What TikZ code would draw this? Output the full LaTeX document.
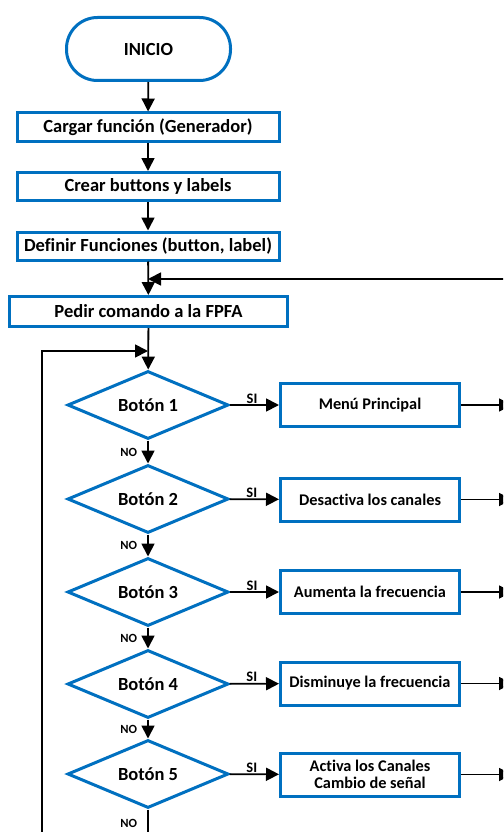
\documentclass[tikz,border=0pt]{standalone}
\usepackage{fontspec}
\setmainfont[Ligatures=NoCommon]{Carlito}
\usetikzlibrary{shapes.geometric,arrows.meta}
\definecolor{flowblue}{RGB}{0,112,192}
\begin{document}
\begin{tikzpicture}[x=1pt,y=-1pt,
  mainfont/.style={font=\fontsize{18.5}{21}\selectfont\bfseries},
  sidefont/.style={font=\fontsize{16.3}{18}\selectfont\bfseries},
  stepbox/.style={draw=flowblue,line width=3pt,fill=white,inner sep=0pt,
    minimum width=262pt,minimum height=28pt,mainfont},
  terminal/.style={draw=flowblue,line width=3pt,fill=white,inner sep=0pt,
    rounded corners=31pt,minimum width=164pt,minimum height=63pt,mainfont},
  decision/.style={diamond,aspect=2.37,draw=flowblue,line width=3pt,fill=white,
    inner sep=0pt,minimum width=161pt,minimum height=68pt,mainfont},
  actionbox/.style={draw=flowblue,line width=3pt,fill=white,inner sep=0pt,
    minimum width=179pt,minimum height=43pt,sidefont,align=center},
  flow/.style={draw=black,line width=1.8pt},
  arr/.style={flow,-{Triangle[length=13pt,width=13pt]}},
  yes/.style={above,inner sep=1pt,font=\fontsize{14.5}{16}\selectfont\bfseries},
  no/.style={left=10pt,inner sep=0pt,font=\fontsize{12.5}{14}\selectfont\bfseries}]

\useasboundingbox (0,0) rectangle (503,832);
\clip (0,0) rectangle (503,832);

% main sequence
\node[terminal] (start) at (148.5,49) {INICIO};
\node[stepbox] (load) at (148,127) {Cargar función (Generador)};
\node[stepbox] (create) at (148,186.5) {Crear buttons y labels};
\node[stepbox] (define) at (148,246) {Definir Funciones (button, label)};
\node[stepbox,minimum width=278pt,minimum height=30pt] (ask) at (148.5,311.5) {Pedir comando a la FPFA};

% decisions and actions
\node[decision] (d1) at (148,405) {Botón 1};
\node[decision] (d2) at (148,499) {Botón 2};
\node[decision] (d3) at (148,592) {Botón 3};
\node[decision] (d4) at (148,684) {Botón 4};
\node[decision] (d5) at (148,774) {Botón 5};

\node[actionbox] (a1) at (370,405) {Menú Principal};
\node[actionbox] (a2) at (370,499.5) {Desactiva los canales};
\node[actionbox] (a3) at (370,592) {Aumenta la frecuencia};
\node[actionbox] (a4) at (370,683.5) {Disminuye la frecuencia};
\node[actionbox] (a5) at (370,774.5) {Activa los Canales\\[-1pt]Cambio de señal};

% free ends of the return lines
\coordinate (retR) at (510,279);
\coordinate (retM) at (148,279);
\coordinate (loopB) at (42,840);
\coordinate (loopT) at (42,351);
\coordinate (loopM) at (148,351);
\coordinate (endB) at (148,840);
\foreach \i/\y in {1/405,2/499.5,3/592,4/683.5,5/774.5}
  \coordinate (out\i) at (512,\y);

% connectors
\draw[arr] (start) -- (load);
\draw[arr] (load) -- (create);
\draw[arr] (create) -- (define);
\draw[arr] (define) -- (ask);
\draw[arr] (retR) -- (retM);
\draw[arr] (ask) -- (d1);
\draw[arr] (loopB) -- (loopT) -- (loopM);

\draw[arr] (d1) -- node[no] {NO} (d2);
\draw[arr] (d2) -- node[no] {NO} (d3);
\draw[arr] (d3) -- node[no] {NO} (d4);
\draw[arr] (d4) -- node[no] {NO} (d5);
\draw[flow] (d5) -- node[no,pos=0.47] {NO} (endB);

\foreach \i in {1,...,5}{
  \draw[arr] (d\i) -- node[yes,pos=0.45] {SI} (a\i);
  \draw[arr] (a\i) -- (out\i);
}
\end{tikzpicture}
\end{document}
